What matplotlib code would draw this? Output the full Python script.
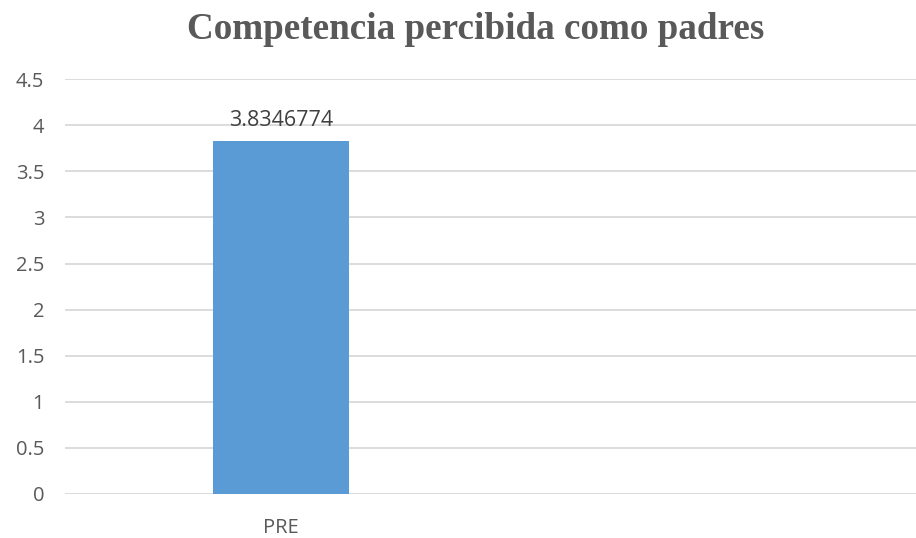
import numpy as np
import matplotlib.pyplot as plt

categories = ["PRE", ""]
values = [3.8346774, np.nan]
value_labels = ["3.8346774", ""]
yticks = [0, 0.5, 1, 1.5, 2, 2.5, 3, 3.5, 4, 4.5]
ytick_labels = ["0", "0.5", "1", "1.5", "2", "2.5", "3", "3.5", "4", "4.5"]

fig = plt.figure(figsize=(9.16, 5.38), dpi=100)
ax = fig.add_axes([0.071, 0.0818, 0.929, 0.771])

x = np.arange(len(categories))
bars = ax.bar(x, values, width=0.315, color="#5B9BD5", zorder=3)

# data label above the bar
for xi, v, lab in zip(x, values, value_labels):
    if not np.isnan(v):
        ax.text(xi, v + 0.1, lab, ha="center", va="bottom", fontsize=15.5,
                color="#404040", family="Open Sans")

ax.set_xlim(-0.5, 1.47)
ax.set_ylim(0, 4.5)
ax.set_yticks(yticks)
ax.set_yticklabels(ytick_labels)
ax.set_xticks(x)
ax.set_xticklabels(categories)
ax.grid(axis="y", color="#D9D9D9", linewidth=1.3, zorder=0)
for s in ax.spines.values():
    s.set_visible(False)
ax.tick_params(axis="both", length=0, colors="#595959", labelsize=14.5)
ax.tick_params(axis="y", pad=15)
ax.tick_params(axis="x", pad=17)
for lab in ax.get_xticklabels() + ax.get_yticklabels():
    lab.set_family("Open Sans")

fig.text(0.519, 1 - 39 / 538, "Competencia percibida como padres",
         ha="center", va="baseline", fontsize=26.7, fontweight="bold",
         family="Liberation Serif", color="#595959")

fig.savefig("out.png", dpi=100)
